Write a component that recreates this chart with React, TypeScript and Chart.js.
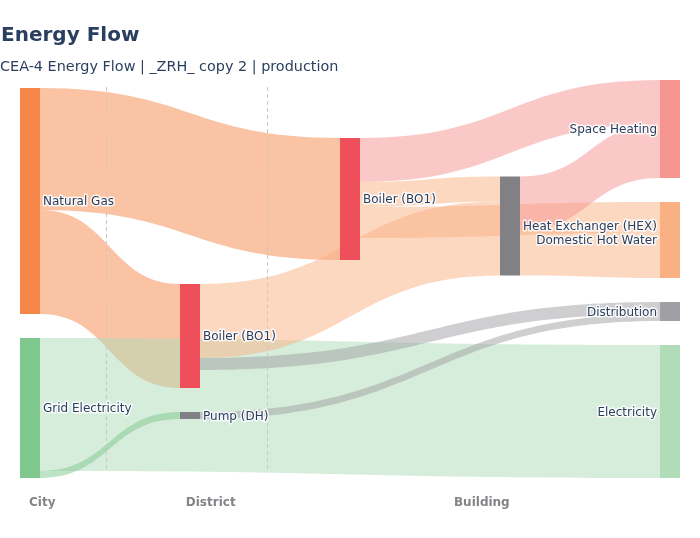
import React, { useEffect, useRef } from 'react';
import { Chart, registerables } from 'chart.js';

Chart.register(...registerables);

// ---------------- data ----------------
const TITLE = 'Energy Flow';
const SUBTITLE = 'CEA-4 Energy Flow | _ZRH_ copy 2 | production';

const NODE_LABELS = [
  'Natural Gas',
  'Grid Electricity',
  'Boiler (BO1)',
  'Boiler (BO1)',
  'Pump (DH)',
  'Heat Exchanger (HEX)',
  'Space Heating',
  'Domestic Hot Water',
  'Distribution',
  'Electricity',
];
// column (level) in which each node is drawn
const NODE_LEVELS = [0, 0, 2, 1, 1, 3, 4, 4, 4, 4];

const LEVEL_NAMES = ['City', 'District', 'Building'];

const LINK_SOURCE = [0, 0, 1, 1, 2, 2, 2, 3, 3, 4, 5, 5];
const LINK_TARGET = [2, 3, 9, 4, 6, 5, 7, 5, 8, 8, 6, 7];
const LINK_VALUE = [122, 104, 133, 7, 44, 25, 31, 74, 12, 7, 54, 45];

// ---------------- styles ----------------
const NODE_COLORS = [
  '#F5874A', '#7EC88D', '#EF4F5B', '#EF4F5B', '#808085',
  '#808085', '#F69490', '#F9B183', '#A09FA4', '#B0DCB8',
];
const ORANGE = 'rgba(245,135,74,0.5)';
const HOTW = 'rgba(249,177,131,0.5)';
const SPACE = 'rgba(246,148,144,0.5)';
const GREY = 'rgba(160,159,164,0.5)';
const ELEC = 'rgba(176,220,184,0.5)';
const GRID = 'rgba(126,200,141,0.5)';
const LINK_COLORS = [ORANGE, ORANGE, ELEC, GRID, SPACE, HOTW, HOTW, HOTW, GREY, GREY, SPACE, HOTW];

const NODE_PAD = 24;
const NODE_THICKNESS = 20;
const TEXT_COLOR = '#2a3f5f';
const LEVEL_COLOR = '#838388';
const FONT = '"DejaVu Sans", Verdana, sans-serif';
// annotation placement (column units)
const LEVEL_LABEL_AT = [0, 0.98, 2.656];
const LEVEL_DIVIDERS = [0.473, 1.483];

// ---------------- layout (d3-sankey style relaxation) ----------------
function computeSankey() {
  const n = NODE_LABELS.length;
  const m = LINK_VALUE.length;
  const inSum = new Array(n).fill(0);
  const outSum = new Array(n).fill(0);
  for (let k = 0; k < m; k++) {
    outSum[LINK_SOURCE[k]] += LINK_VALUE[k];
    inSum[LINK_TARGET[k]] += LINK_VALUE[k];
  }
  const value = inSum.map((v, i) => Math.max(v, outSum[i]));
  const depth = new Array(n).fill(0);
  for (let p = 0; p < n; p++)
    for (let k = 0; k < m; k++)
      depth[LINK_TARGET[k]] = Math.max(depth[LINK_TARGET[k]], depth[LINK_SOURCE[k]] + 1);
  const maxDepth = Math.max(...depth);
  const layer = depth.map((d, i) => (outSum[i] > 0 ? d : maxDepth));
  const columns: number[][] = [];
  for (let i = 0; i < n; i++) {
    if (!columns[layer[i]]) columns[layer[i]] = [];
    columns[layer[i]].push(i);
  }
  const span = Math.max(
    ...columns.map((c) => c.reduce((s, i) => s + value[i], 0) + (c.length - 1) * NODE_PAD)
  );
  const y0 = new Array(n).fill(0);
  const y1 = new Array(n).fill(0);
  columns.forEach((c) => {
    let y = 0;
    c.forEach((i) => {
      y0[i] = y;
      y1[i] = y + value[i];
      y = y1[i] + NODE_PAD;
    });
  });
  const resolve = (c: number[]) => {
    let y = 0;
    for (const i of c) {
      const d = y - y0[i];
      if (d > 0) { y0[i] += d; y1[i] += d; }
      y = y1[i] + NODE_PAD;
    }
    const over = y - NODE_PAD - span;
    if (over > 0) {
      y = span;
      for (let k = c.length - 1; k >= 0; k--) {
        const i = c[k];
        const d = y1[i] - y;
        if (d > 0) { y0[i] -= d; y1[i] -= d; }
        y = y0[i] - NODE_PAD;
      }
    }
  };
  columns.forEach(resolve);
  for (let it = 0; it < 300; it++) {
    for (const c of columns) {
      for (const i of c) {
        let s = 0, w = 0;
        for (let k = 0; k < m; k++) {
          let j = -1;
          if (LINK_SOURCE[k] === i) j = LINK_TARGET[k];
          else if (LINK_TARGET[k] === i) j = LINK_SOURCE[k];
          if (j < 0) continue;
          s += (y0[j] + y1[j]) / 2;
          w += 1;
        }
        if (w > 0) {
          const d = (s / w - (y0[i] + y1[i]) / 2) * 0.7;
          y0[i] += d;
          y1[i] += d;
        }
      }
      resolve(c);
    }
  }
  // link offsets
  const sy = new Array(m).fill(0);
  const ty = new Array(m).fill(0);
  for (let i = 0; i < n; i++) {
    const outs = [];
    const ins = [];
    for (let k = 0; k < m; k++) {
      if (LINK_SOURCE[k] === i) outs.push(k);
      if (LINK_TARGET[k] === i) ins.push(k);
    }
    outs.sort((a, b) => y0[LINK_TARGET[a]] - y0[LINK_TARGET[b]]);
    ins.sort((a, b) => y0[LINK_SOURCE[a]] - y0[LINK_SOURCE[b]]);
    let y = y0[i];
    outs.forEach((k) => { sy[k] = y; y += LINK_VALUE[k]; });
    y = y0[i];
    ins.forEach((k) => { ty[k] = y; y += LINK_VALUE[k]; });
  }
  return { y0, y1, sy, ty, span };
}

const SANKEY = computeSankey();

function haloText(ctx: CanvasRenderingContext2D, text: string, x: number, y: number, color: string) {
  ctx.lineJoin = 'round';
  ctx.strokeStyle = 'rgba(255,255,255,0.85)';
  ctx.lineWidth = 3;
  ctx.strokeText(text, x, y);
  ctx.fillStyle = color;
  ctx.fillText(text, x, y);
}

const sankeyPlugin = {
  id: 'sankeyDraw',
  afterDraw(chart: any) {
    const { ctx, chartArea } = chart;
    const xs = chart.scales.x;
    const ys = chart.scales.y;
    const px = (v: number) => xs.getPixelForValue(v);
    const py = (v: number) => ys.getPixelForValue(v);
    ctx.save();

    // title + subtitle
    ctx.textBaseline = 'alphabetic';
    ctx.textAlign = 'left';
    ctx.fillStyle = TEXT_COLOR;
    ctx.font = `bold 20px ${FONT}`;
    ctx.fillText(TITLE, 1, 41);
    ctx.font = `14.4px ${FONT}`;
    ctx.fillText(SUBTITLE, 0, 71);

    // links
    for (let k = 0; k < LINK_VALUE.length; k++) {
      const s = LINK_SOURCE[k];
      const t = LINK_TARGET[k];
      const x0 = px(NODE_LEVELS[s]) + NODE_THICKNESS / 2;
      const x1 = px(NODE_LEVELS[t]) - NODE_THICKNESS / 2;
      const xm = (x0 + x1) / 2;
      const a0 = py(SANKEY.sy[k]);
      const b0 = py(SANKEY.sy[k] + LINK_VALUE[k]);
      const a1 = py(SANKEY.ty[k]);
      const b1 = py(SANKEY.ty[k] + LINK_VALUE[k]);
      ctx.beginPath();
      ctx.moveTo(x0, a0);
      ctx.bezierCurveTo(xm, a0, xm, a1, x1, a1);
      ctx.lineTo(x1, b1);
      ctx.bezierCurveTo(xm, b1, xm, b0, x0, b0);
      ctx.closePath();
      ctx.fillStyle = LINK_COLORS[k];
      ctx.fill();
    }

    // level dividers
    ctx.strokeStyle = '#c8c8c8';
    ctx.lineWidth = 1;
    ctx.setLineDash([4, 3]);
    LEVEL_DIVIDERS.forEach((d) => {
      const x = Math.round(px(d)) + 0.5;
      ctx.beginPath();
      ctx.moveTo(x, chartArea.top + 7);
      ctx.lineTo(x, chartArea.bottom - 8);
      ctx.stroke();
    });
    ctx.setLineDash([]);

    // nodes
    const lastLevel = Math.max(...NODE_LEVELS);
    for (let i = 0; i < NODE_LABELS.length; i++) {
      const xc = px(NODE_LEVELS[i]);
      const top = py(SANKEY.y0[i]);
      const bot = py(SANKEY.y1[i]);
      ctx.fillStyle = NODE_COLORS[i];
      ctx.fillRect(xc - NODE_THICKNESS / 2, top, NODE_THICKNESS, bot - top);
    }
    // node labels
    ctx.font = `12px ${FONT}`;
    for (let i = 0; i < NODE_LABELS.length; i++) {
      const xc = px(NODE_LEVELS[i]);
      const yc = (py(SANKEY.y0[i]) + py(SANKEY.y1[i])) / 2 + 4.2;
      if (NODE_LEVELS[i] === lastLevel) {
        ctx.textAlign = 'right';
        haloText(ctx, NODE_LABELS[i], xc - NODE_THICKNESS / 2 - 3, yc, TEXT_COLOR);
      } else {
        ctx.textAlign = 'left';
        haloText(ctx, NODE_LABELS[i], xc + NODE_THICKNESS / 2 + 3, yc, TEXT_COLOR);
      }
    }
    // level names
    ctx.font = `bold 12px ${FONT}`;
    ctx.textAlign = 'left';
    LEVEL_NAMES.forEach((name, i) => {
      haloText(ctx, name, px(LEVEL_LABEL_AT[i]) - 1, chartArea.bottom + 27.5, LEVEL_COLOR);
    });
    ctx.restore();
  },
};

export default function App() {
  const ref = useRef<HTMLCanvasElement>(null);
  useEffect(() => {
    const chart = new Chart(ref.current as HTMLCanvasElement, {
      type: 'scatter',
      data: { datasets: [{ data: [] }] },
      options: {
        animation: false,
        responsive: false,
        events: [],
        layout: { padding: { left: 30, right: 30, top: 80, bottom: 60 } },
        plugins: { legend: { display: false }, tooltip: { enabled: false }, title: { display: false } },
        scales: {
          x: { type: 'linear', min: 0, max: 4, display: false },
          y: { type: 'linear', min: 0, max: SANKEY.span, reverse: true, display: false },
        },
      },
      plugins: [sankeyPlugin],
    });
    return () => chart.destroy();
  }, []);
  return (
    <div style={{ position: 'absolute', left: 0, top: 0, width: 700, height: 538, background: '#fff' }}>
      <canvas ref={ref} width={700} height={538} style={{ display: 'block' }} />
    </div>
  );
}
